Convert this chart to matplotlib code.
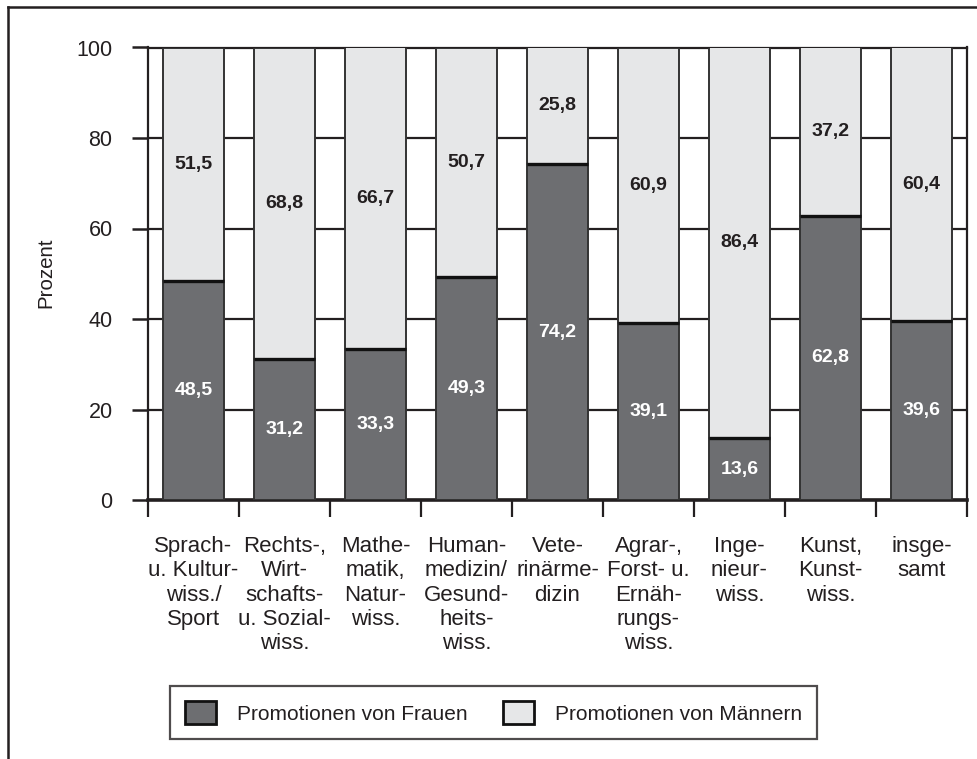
import matplotlib
matplotlib.use("Agg")
import matplotlib.pyplot as plt
import numpy as np
from matplotlib.patches import Patch
from matplotlib.lines import Line2D
from matplotlib.ticker import FixedLocator

plt.rcParams['font.family'] = ['Liberation Sans', 'DejaVu Sans']

categories = [
    "Sprach-\nu. Kultur-\nwiss./\nSport",
    "Rechts-,\nWirt-\nschafts-\nu. Sozial-\nwiss.",
    "Mathe-\nmatik,\nNatur-\nwiss.",
    "Human-\nmedizin/\nGesund-\nheits-\nwiss.",
    "Vete-\nrinärme-\ndizin",
    "Agrar-,\nForst- u.\nErnäh-\nrungs-\nwiss.",
    "Inge-\nnieur-\nwiss.",
    "Kunst,\nKunst-\nwiss.",
    "insge-\nsamt",
]
frauen = [48.5, 31.2, 33.3, 49.3, 74.2, 39.1, 13.6, 62.8, 39.6]
maenner = [51.5, 68.8, 66.7, 50.7, 25.8, 60.9, 86.4, 37.2, 60.4]
yticks = [0, 20, 40, 60, 80, 100]

DARK = '#6d6e71'
LIGHT = '#e6e7e8'
INK = '#231f20'

W, H = 978, 759
fig = plt.figure(figsize=(W / 100, H / 100), dpi=100)
ax = fig.add_axes([148 / W, 1 - 500 / H, (967 - 148) / W, (500 - 47.5) / H])

x = np.arange(len(categories))
bw = 0.66
f = np.array(frauen)
m = np.array(maenner)

ax.bar(x, f, width=bw, color=DARK, edgecolor='#333333', linewidth=1.4, zorder=3)
ax.bar(x, m, bottom=f, width=bw, color=LIGHT, edgecolor='#333333', linewidth=1.4, zorder=3)
ax.hlines(f, x - bw / 2, x + bw / 2, color='#111111', linewidth=2.4, zorder=4)

for xi, fv, mv in zip(x, f, m):
    ax.text(xi, fv / 2, f"{fv:.1f}".replace('.', ','), ha='center', va='center',
            color='white', fontsize=14, fontweight='bold', zorder=5)
    ax.text(xi, fv + mv / 2, f"{mv:.1f}".replace('.', ','), ha='center', va='center',
            color=INK, fontsize=14, fontweight='bold', zorder=5)

ax.set_xlim(-0.5, len(categories) - 0.5)
ax.set_ylim(0, 100)
ax.set_yticks(yticks)
ax.set_yticklabels([str(t) for t in yticks], fontsize=15.5, color=INK)
ax.yaxis.grid(True, color=INK, linewidth=1.6, zorder=0)
ax.set_axisbelow(True)

ax.set_xticks(x)
ax.set_xticklabels(categories, fontsize=16, color=INK, linespacing=1.2)
ax.xaxis.set_minor_locator(FixedLocator(np.arange(len(categories) + 1) - 0.5))
ax.tick_params(axis='x', which='major', length=0, pad=26)
ax.tick_params(axis='x', which='minor', length=12, width=1.6, color=INK, direction='out')
ax.tick_params(axis='y', which='major', length=11.5, width=1.8, color=INK, direction='out', pad=14)

for side in ['left', 'right', 'top']:
    ax.spines[side].set_color(INK)
    ax.spines[side].set_linewidth(1.6)
ax.spines['bottom'].set_color(INK)
ax.spines['bottom'].set_linewidth(2.6)

fig.text(46 / W, 1 - 273 / H, 'Prozent', rotation=90, ha='center', va='center',
         fontsize=14.8, color=INK)

handles = [
    Patch(facecolor=DARK, edgecolor='#111111', linewidth=2, label='Promotionen von Frauen'),
    Patch(facecolor=LIGHT, edgecolor='#111111', linewidth=2, label='Promotionen von Männern'),
]
leg = fig.legend(handles=handles, loc='lower left', bbox_to_anchor=(170 / W, 1 - 739 / H),
                 ncol=2, frameon=True, fancybox=False, shadow=False, fontsize=15,
                 handlelength=1.5, handleheight=1.35, handletextpad=1.0,
                 columnspacing=1.7, borderpad=0.7, borderaxespad=0)
leg.get_frame().set_edgecolor(INK)
leg.get_frame().set_linewidth(1.6)
for t in leg.get_texts():
    t.set_color(INK)

# outer frame lines
fig.add_artist(Line2D([8 / W, 1], [1 - 7 / H, 1 - 7 / H], transform=fig.transFigure,
                      color=INK, linewidth=1.8))
fig.add_artist(Line2D([8 / W, 8 / W], [0, 1 - 7 / H], transform=fig.transFigure,
                      color=INK, linewidth=1.8))

fig.savefig('out.png', dpi=100, facecolor='white')
